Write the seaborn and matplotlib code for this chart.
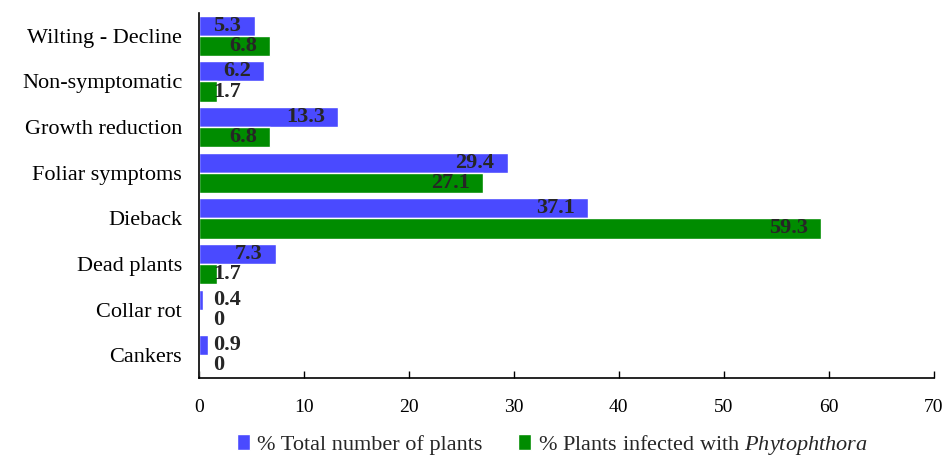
import matplotlib
matplotlib.use("Agg")
import matplotlib.pyplot as plt
import seaborn as sns
import pandas as pd

categories = ["Wilting - Decline", "Non-symptomatic", "Growth reduction",
              "Foliar symptoms", "Dieback", "Dead plants", "Collar rot", "Cankers"]
total_pct = [5.3, 6.2, 13.3, 29.4, 37.1, 7.3, 0.4, 0.9]
infected_pct = [6.8, 1.7, 6.8, 27.1, 59.3, 1.7, 0, 0]
series_names = ["% Total number of plants", "% Plants infected with $\\it{Phytophthora}$"]
x_ticks = [0, 10, 20, 30, 40, 50, 60, 70]

sns.set_theme(style="white")
plt.rcParams["font.family"] = ["Liberation Serif", "DejaVu Serif"]
plt.rcParams["mathtext.fontset"] = "custom"
plt.rcParams["mathtext.it"] = "Liberation Serif:italic"
plt.rcParams["mathtext.rm"] = "Liberation Serif"

df = pd.DataFrame({
    "category": categories * 2,
    "value": total_pct + infected_pct,
    "series": [series_names[0]] * len(categories) + [series_names[1]] * len(categories),
})

fig = plt.figure(figsize=(9.47, 4.63), dpi=100)
ax = fig.add_axes([0.210, 0.183, 0.776, 0.789])

palette = {series_names[0]: "#4a4aff", series_names[1]: "#008c00"}
sns.barplot(data=df, y="category", x="value", hue="series", order=categories,
            hue_order=series_names, palette=palette, orient="h", width=0.88,
            saturation=1, ax=ax, legend=True)

ax.set_xlim(0, 70)
ax.set_ylim(len(categories) - 0.5, -0.5)
ax.set_xticks(x_ticks)
ax.set_xlabel("")
ax.set_ylabel("")

for s in ["top", "right"]:
    ax.spines[s].set_visible(False)
for s in ["left", "bottom"]:
    ax.spines[s].set_color("black")
    ax.spines[s].set_linewidth(1.2)

ax.tick_params(axis="x", direction="in", length=5, width=1, colors="black",
               labelsize=14, pad=15, bottom=True)
ax.tick_params(axis="y", length=0, labelsize=16, pad=12, colors="black")

# value labels: inside the bar end, or just past the axis for short bars
px_per_unit = ax.get_window_extent().width / 70.0
for container in ax.containers:
    for bar in container:
        v = bar.get_width()
        yc = bar.get_y() + bar.get_height() / 2
        txt = f"{v:g}"
        if v * px_per_unit > 50:
            ax.annotate(txt, (v, yc), xytext=(-9.5, 0), textcoords="offset points",
                        ha="right", va="center", fontsize=16, fontweight="bold")
        else:
            ax.annotate(txt, (0, yc), xytext=(10, 0), textcoords="offset points",
                        ha="left", va="center", fontsize=16, fontweight="bold")

leg = ax.get_legend()
handles = leg.legend_handles
leg.remove()
fig.legend(handles, series_names, loc="lower center", bbox_to_anchor=(0.583, -0.03),
           ncol=2, frameon=False, fontsize=16, handlelength=0.6, handleheight=0.7,
           handletextpad=0.3, columnspacing=1.6)

fig.savefig("out.png", dpi=100)
